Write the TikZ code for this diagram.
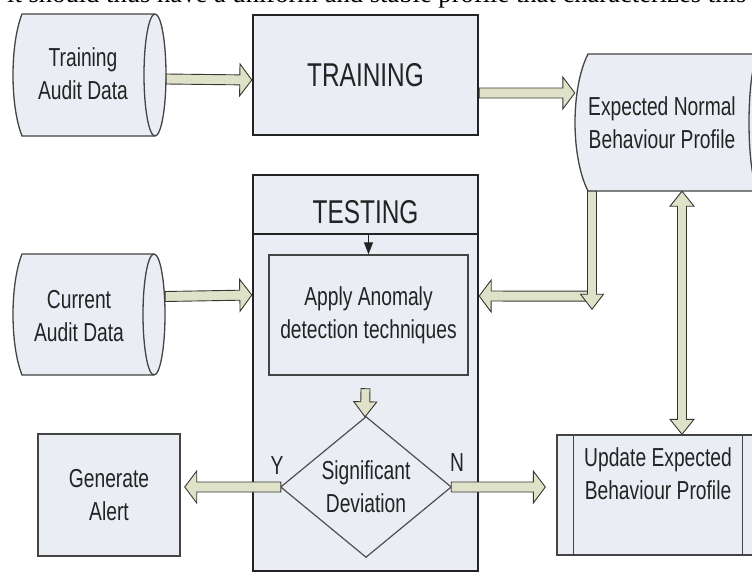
\documentclass[tikz,border=0pt]{standalone}
\usepackage{fontspec}
\usepackage{graphicx}
\setmainfont{Liberation Serif}
\newfontfamily\dfont[FakeStretch=0.74]{Liberation Sans}
\usetikzlibrary{calc,arrows.meta}
\definecolor{boxfill}{RGB}{234,237,243}
\definecolor{arrfill}{RGB}{223,226,200}
\definecolor{arrline}{RGB}{55,55,50}
\definecolor{ink}{RGB}{35,35,35}
\def\fatS{5}\def\fatH{16}\def\fatL{12}
\tikzset{
 txt/.style={font=\dfont\fontsize{26}{33}\selectfont, text=ink, align=center, inner sep=0pt},
 big/.style={font=\dfont\fontsize{33}{40}\selectfont, text=ink, inner sep=0pt},
 shapebox/.style={draw=none, inner sep=0pt},
 boxthick/.style={draw=ink, fill=boxfill, line width=2.4pt, inner sep=0pt},
 boxthin/.style={draw=ink!85, fill=boxfill, line width=1.4pt, inner sep=0pt},
 outl/.style={draw=ink!85, fill=boxfill, line width=1.3pt},
 fatone/.style={draw=arrline, fill=arrfill, line width=0.9pt, line join=miter,
   to path={
    ($(\tikztostart)!\fatS pt!90:(\tikztotarget)$)
    -- ($(\tikztotarget)!\fatL pt!(\tikztostart)!\fatS pt!-90:(\tikztostart)$)
    -- ($(\tikztotarget)!\fatL pt!(\tikztostart)!\fatH pt!-90:(\tikztostart)$)
    -- (\tikztotarget)
    -- ($(\tikztotarget)!\fatL pt!(\tikztostart)!\fatH pt!90:(\tikztostart)$)
    -- ($(\tikztotarget)!\fatL pt!(\tikztostart)!\fatS pt!90:(\tikztostart)$)
    -- ($(\tikztostart)!\fatS pt!-90:(\tikztotarget)$) -- cycle}},
 fattwo/.style={draw=arrline, fill=arrfill, line width=0.9pt, line join=miter,
   to path={
    ($(\tikztostart)!\fatL pt!(\tikztotarget)!\fatS pt!90:(\tikztotarget)$)
    -- ($(\tikztotarget)!\fatL pt!(\tikztostart)!\fatS pt!-90:(\tikztostart)$)
    -- ($(\tikztotarget)!\fatL pt!(\tikztostart)!\fatH pt!-90:(\tikztostart)$)
    -- (\tikztotarget)
    -- ($(\tikztotarget)!\fatL pt!(\tikztostart)!\fatH pt!90:(\tikztostart)$)
    -- ($(\tikztotarget)!\fatL pt!(\tikztostart)!\fatS pt!90:(\tikztostart)$)
    -- ($(\tikztostart)!\fatL pt!(\tikztotarget)!\fatS pt!-90:(\tikztotarget)$)
    -- ($(\tikztostart)!\fatL pt!(\tikztotarget)!\fatH pt!-90:(\tikztotarget)$)
    -- (\tikztostart)
    -- ($(\tikztostart)!\fatL pt!(\tikztotarget)!\fatH pt!90:(\tikztotarget)$)
    -- cycle}},
 hfat/.style={fatone, /utils/exec={\def\fatS{5}\def\fatH{16}\def\fatL{12}}},
 vfat/.style={fatone, /utils/exec={\def\fatS{4.5}\def\fatH{11.5}\def\fatL{15}}},
 vfattwo/.style={fattwo, /utils/exec={\def\fatS{4.5}\def\fatH{12}\def\fatL{15}}},
}
% stored-data shape: #1 bulge x, #2 left corner x, #3 right corner x, #4 top y, #5 bottom y
\newcommand{\storedshape}[5]{%
  \pgfmathsetmacro{\sdc}{(8*#1-2*#2)/6}%
  \pgfmathsetmacro{\sdh}{(#5-#4)/2}%
  \pgfmathsetmacro{\sdk}{(#5-#4)/4}%
  \path[outl] (#2,#4) -- (#3,#4) arc[start angle=-90,end angle=90,x radius=11,y radius=\sdh]
     -- (#2,#5) .. controls (\sdc,#5-\sdk) and (\sdc,#4+\sdk) .. (#2,#4) -- cycle;
  \draw[draw=ink!85, line width=1.3pt] (#3,#4) arc[start angle=-90,end angle=-270,x radius=11,y radius=\sdh];
}
\begin{document}
\begin{tikzpicture}[x=1pt,y=-1pt]
\useasboundingbox (0,0) rectangle (752,574);
\clip (0,0) rectangle (752,574);
\fill[white] (0,0) rectangle (752,574);

% cropped caption line
\node[anchor=south west, inner sep=0pt] (caption) at (7,8.5)
  {\resizebox{739pt}{!}{it should thus have a uniform and stable profile that characterizes this}};

% shapes
\storedshape{13}{22}{155}{14}{136}
\storedshape{13}{22}{154}{254}{375}
\storedshape{575}{588}{760}{54}{191}

\node[txt, minimum width=166pt] (tad) at (83,74) {Training\\Audit Data};
\node[txt, minimum width=172pt, minimum height=121pt] (cad) at (79,316) {Current\\Audit Data};
\node[txt, minimum width=174pt, minimum height=137pt] (exp) at (662,122.5) {Expected Normal\\Behaviour Profile};

\node[boxthick, big, minimum width=225pt, minimum height=120pt] (trn) at (365.5,75) {TRAINING};
\node[boxthick, minimum width=225pt, minimum height=396pt] (tst) at (365.5,373) {};
\draw[ink, line width=2.4pt] ([yshift=-60pt]tst.north west) coordinate (dl) -- ([yshift=-60pt]tst.north east);
\node[big] (tsth) at (365.5,212) {TESTING};

\node[boxthin, txt, minimum width=199pt, minimum height=120pt] (apl) at (368.5,315) {Apply Anomaly\\detection techniques};
\coordinate (div) at (apl.north |- dl);
\draw[ink, line width=1pt, -{Triangle[width=9pt,length=12pt]}] (div) -- (apl.north);

\node[shapebox, txt, minimum width=170pt, minimum height=140pt] (dia) at (366,487) {Significant\\Deviation};
\draw[ink!80, line width=1.2pt, line join=miter] (dia.north) -- (dia.east) -- (dia.south) -- (dia.west) -- cycle;

\node[boxthin, txt, minimum width=142pt, minimum height=122pt] (gen) at (109,495) {Generate\\Alert};

\node[boxthin, minimum width=218pt, minimum height=120pt] (upd) at (666,495) {};
\draw[ink!85, line width=1.3pt] ([xshift=17pt]upd.north west) -- ([xshift=17pt]upd.south west);
\draw[ink!85, line width=1.3pt] ([xshift=186pt]upd.north west) -- ([xshift=186pt]upd.south west);
\node[txt, anchor=north] (updt) at (658,447) {Update Expected\\Behaviour Profile};

\node[txt] (ylab) at (277,466) {Y};
\node[txt] (nlab) at (457,463) {N};

% fat connectors
\draw[hfat] ([yshift=-5pt]tad.east) to ([yshift=-5pt]trn.west);
\draw[hfat] ([yshift=-18pt]trn.east) to ([yshift=-18pt]trn.east -| exp.west);
\draw[hfat] ([yshift=19.5pt]cad.east) to ([yshift=78pt]tst.west);
\coordinate (bend) at ([xshift=-70pt,yshift=-105pt]exp.south);
\draw[hfat] (bend) to ([yshift=77pt]tst.east);
\draw[vfat] ([xshift=-70pt]exp.south) to ([yshift=-13pt]bend);
\draw[vfattwo] ([xshift=20pt]exp.south) to ([xshift=16pt]upd.north);
\draw[vfat] ([xshift=-3pt,yshift=-13pt]apl.south) to ([xshift=-1pt]dia.north);
\draw[hfat] (dia.west) to ($(dia.west -| gen.east)+(4,0)$);
\draw[hfat] (dia.east) to ($(dia.east -| upd.west)+(-11,0)$);
\end{tikzpicture}
\end{document}
